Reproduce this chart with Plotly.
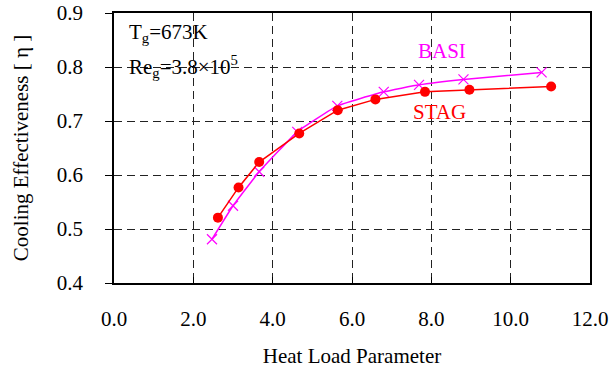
import plotly.graph_objects as go

stag_x = [2.62, 3.14, 3.66, 4.67, 5.64, 6.59, 7.84, 8.96, 11.02]
stag_y = [0.521, 0.577, 0.624, 0.677, 0.720, 0.740, 0.754, 0.758, 0.764]
basi_x = [2.47, 3.00, 3.66, 4.62, 5.63, 6.80, 7.69, 8.81, 10.78]
basi_y = [0.481, 0.543, 0.606, 0.680, 0.728, 0.754, 0.767, 0.777, 0.790]
x_ticks = [0, 2, 4, 6, 8, 10, 12]
y_ticks = [0.4, 0.5, 0.6, 0.7, 0.8, 0.9]

FONT = "Liberation Serif, Times New Roman, serif"
FS = 21

fig = go.Figure()
fig.add_trace(go.Scatter(
    x=basi_x, y=basi_y, mode="lines+markers", name="BASI",
    line=dict(color="#FF00FF", width=1.5, shape="spline", smoothing=0.3),
    marker=dict(symbol="x-thin-open", size=10, line=dict(color="#FF00FF", width=1.2)),
))
fig.add_trace(go.Scatter(
    x=stag_x, y=stag_y, mode="lines+markers", name="STAG",
    line=dict(color="#FF0000", width=1.5),
    marker=dict(symbol="circle", size=10, color="#FF0000"),
))

fig.update_layout(
    width=616, height=375,
    margin=dict(l=114, r=26, t=13, b=92),
    paper_bgcolor="white", plot_bgcolor="white",
    showlegend=False,
    font=dict(family=FONT, size=FS, color="black"),
    xaxis=dict(
        range=[0, 12], tickvals=x_ticks, ticktext=[f"{v:.1f}" for v in x_ticks],
        showgrid=True, gridcolor="#222222", griddash="8px,5px", gridwidth=1,
        showline=True, linecolor="black", linewidth=1.5, mirror=True,
        ticks="inside", ticklen=6, tickcolor="black", ticklabelstandoff=16,
        zeroline=False, tickfont=dict(size=FS), automargin=False,
        title=dict(text="Heat Load Parameter", font=dict(size=FS), standoff=18),
    ),
    yaxis=dict(
        range=[0.4, 0.9], tickvals=y_ticks, ticktext=[f"{v:.1f}" for v in y_ticks],
        showgrid=True, gridcolor="#222222", griddash="8px,5px", gridwidth=1,
        showline=True, linecolor="black", linewidth=1.5, mirror=True,
        ticks="outside", ticklen=7, tickcolor="black", ticklabelstandoff=18,
        zeroline=False, tickfont=dict(size=FS), automargin=False,
        title=dict(text="Cooling Effectiveness [ η ]", font=dict(size=FS), standoff=22),
    ),
    annotations=[
        dict(xref="paper", yref="paper", x=0.028, y=0.925, xanchor="left", yanchor="middle",
             text="T<sub>g</sub>=673K", showarrow=False, font=dict(size=FS)),
        dict(xref="paper", yref="paper", x=0.028, y=0.80, xanchor="left", yanchor="middle",
             text="Re<sub>g</sub>=3.8×10<sup>5</sup>", showarrow=False, font=dict(size=FS)),
        dict(xref="paper", yref="paper", x=0.69, y=0.86, xanchor="center", yanchor="middle",
             text="BASI", showarrow=False, font=dict(size=FS, color="#FF00FF")),
        dict(xref="paper", yref="paper", x=0.683, y=0.635, xanchor="center", yanchor="middle",
             text="STAG", showarrow=False, font=dict(size=FS, color="#FF0000")),
    ],
)

fig.write_html("out.html")
